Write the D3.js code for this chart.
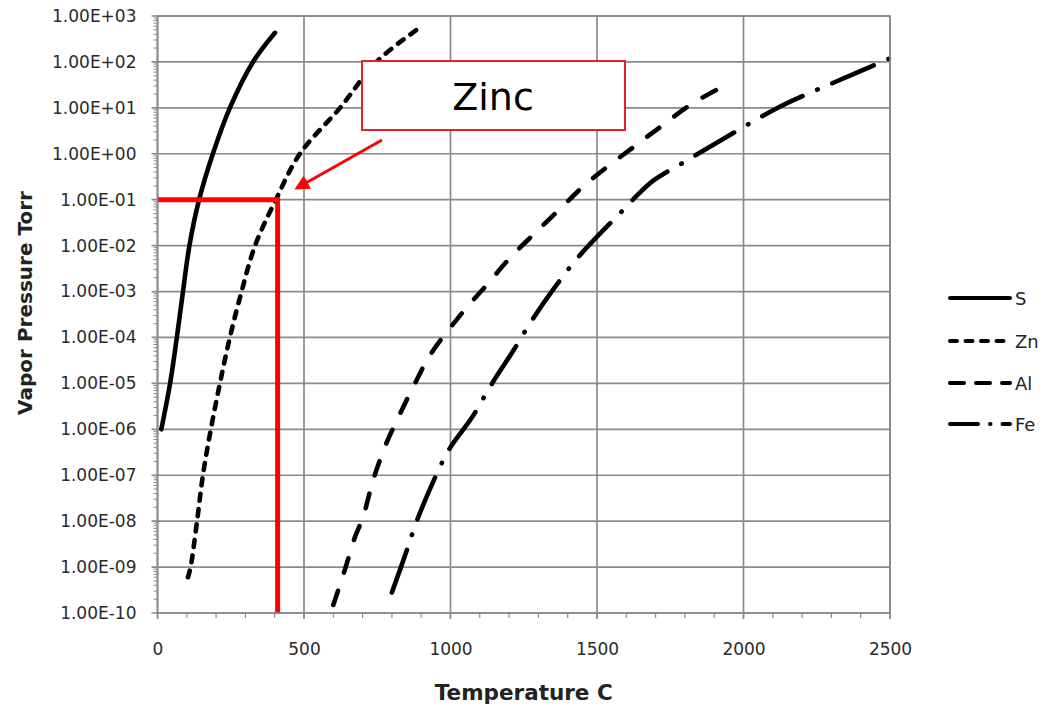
<!DOCTYPE html>
<html>
<head>
<meta charset="utf-8">
<script src="https://cdn.jsdelivr.net/npm/d3@7"></script>
<style>
  body { margin: 0; background: #fff; }
  text { font-family: "DejaVu Sans", Verdana, sans-serif; }
</style>
</head>
<body>
<div id="chart"></div>
<script>
// Temperatures (C) and vapor pressures (Torr)
var sTemp = [13, 43, 66, 87, 109, 142, 189, 247, 326, 401];
var sPress = [1e-6, 1e-5, 1e-4, 1e-3, 1e-2, 1e-1, 1, 10, 100, 430];

var znTemp = [104, 113, 135, 155, 182, 213, 247, 287, 333, 404, 486, 623, 747, 889];
var znPress = [6e-10, 1e-9, 1e-8, 1e-7, 1e-6, 1e-5, 1e-4, 1e-3, 1e-2, 1e-1, 1, 10, 100, 525];

var alTemp = [600, 637, 674, 701, 736, 777, 828, 882, 930, 1041, 1124, 1203, 1289, 1380, 1466, 1647, 1715, 1827, 1954];
var alPress = [1.5e-10, 7.8e-10, 4.5e-9, 1.2e-8, 7.8e-8, 4.3e-7, 2.2e-6, 1.1e-5, 4.1e-5, 3.5e-4, 1.4e-3, 5.4e-3, 1.9e-2, 6.9e-2, 0.23, 1.8, 3.8, 12.6, 35];

var feTemp = [800, 845, 886, 954, 998, 1073, 1142, 1213, 1282, 1357, 1439, 1596, 1640, 1692, 1801, 1913, 2114, 2233, 2353, 2500];
var fePress = [2.8e-10, 1.8e-9, 1.05e-8, 1.1e-7, 3.9e-7, 1.8e-6, 1e-5, 5e-5, 2.6e-4, 1.26e-3, 5.9e-3, 6.6e-2, 0.13, 0.26, 0.68, 1.8, 9.8, 22, 47, 120];

var seriesNames = ['S', 'Zn', 'Al', 'Fe'];

// tick values
var xTicks = [0, 500, 1000, 1500, 2000, 2500];
var yTicks = [1e-10, 1e-9, 1e-8, 1e-7, 1e-6, 1e-5, 1e-4, 1e-3, 1e-2, 1e-1, 1, 10, 100, 1000];

// zinc annotation: 0.1 Torr at about 410 C
var zincPress = 0.1;
var zincTemp = 410;
var zincLabel = 'Zinc';

// SVG area
var svgWidth = 1049;
var svgHeight = 708;

var margin = { top: 16, right: 159, bottom: 95, left: 157.5 };
var chartWidth = svgWidth - margin.left - margin.right;
var chartHeight = svgHeight - margin.top - margin.bottom;

var svg = d3.select('#chart')
  .append('svg')
  .attr('width', svgWidth)
  .attr('height', svgHeight);

var chartGroup = svg.append('g')
  .attr('transform', `translate(${margin.left}, ${margin.top})`);

var xScale = d3.scaleLinear().domain([0, 2500]).range([0, chartWidth]);
var yScale = d3.scaleLog().domain([1e-10, 1e3]).range([chartHeight, 0]);

var gridColor = '#8a8a8a';

// gridlines
chartGroup.append('g')
  .selectAll('line')
  .data(yTicks)
  .enter()
  .append('line')
  .attr('x1', -6)
  .attr('x2', chartWidth)
  .attr('y1', d => yScale(d))
  .attr('y2', d => yScale(d))
  .attr('stroke', gridColor)
  .attr('stroke-width', 1.7);

chartGroup.append('g')
  .selectAll('line')
  .data(xTicks)
  .enter()
  .append('line')
  .attr('x1', d => xScale(d))
  .attr('x2', d => xScale(d))
  .attr('y1', 0)
  .attr('y2', chartHeight + 6)
  .attr('stroke', gridColor)
  .attr('stroke-width', 1.7);

// minor ticks on the log axis
var minorY = [];
for (var k = -10; k < 3; k++) {
  for (var m = 2; m <= 9; m++) minorY.push(m * Math.pow(10, k));
}
chartGroup.append('g')
  .selectAll('line')
  .data(minorY)
  .enter()
  .append('line')
  .attr('x1', -4)
  .attr('x2', 0)
  .attr('y1', d => yScale(d))
  .attr('y2', d => yScale(d))
  .attr('stroke', gridColor)
  .attr('stroke-width', 1);

var minorX = d3.range(0, 2501, 100);
chartGroup.append('g')
  .selectAll('line')
  .data(minorX)
  .enter()
  .append('line')
  .attr('x1', d => xScale(d))
  .attr('x2', d => xScale(d))
  .attr('y1', chartHeight)
  .attr('y2', chartHeight + 5)
  .attr('stroke', gridColor)
  .attr('stroke-width', 1.2);

// axes (labels only, lines drawn separately)
var bottomAxis = d3.axisBottom(xScale).tickValues(xTicks).tickSize(0).tickPadding(30)
  .tickFormat(d3.format('d'));
var leftAxis = d3.axisLeft(yScale).tickValues(yTicks).tickSize(0).tickPadding(21)
  .tickFormat(d => {
    var e = Math.round(Math.log10(d));
    var s = Math.abs(e) < 10 ? '0' + Math.abs(e) : '' + Math.abs(e);
    return '1.00E' + (e < 0 ? '-' : '+') + s;
  });

var xAxis = chartGroup.append('g')
  .attr('transform', `translate(0, ${chartHeight})`)
  .call(bottomAxis);
var yAxis = chartGroup.append('g')
  .call(leftAxis);

[xAxis, yAxis].forEach(a => {
  a.select('.domain').remove();
  a.selectAll('text')
    .attr('font-size', '17px')
    .attr('font-family', '"DejaVu Sans", Verdana, sans-serif')
    .attr('fill', '#2a2a2a');
});

// axis titles
svg.append('text')
  .attr('x', margin.left + xScale(1250))
  .attr('y', 700)
  .attr('text-anchor', 'middle')
  .attr('font-size', '21.5px')
  .attr('font-weight', 'bold')
  .attr('fill', '#222')
  .text('Temperature C');

svg.append('text')
  .attr('transform', 'translate(32, 303) rotate(-90)')
  .attr('text-anchor', 'middle')
  .attr('font-size', '20px')
  .attr('font-weight', 'bold')
  .attr('fill', '#222')
  .text('Vapor Pressure Torr');

// series lines
var lineStyles = {
  S: null,
  Zn: '7,8.5',
  Al: '15,19',
  Fe: '45,16,0.5,16'
};

var series = [
  { name: 'S', temp: sTemp, press: sPress },
  { name: 'Zn', temp: znTemp, press: znPress },
  { name: 'Al', temp: alTemp, press: alPress },
  { name: 'Fe', temp: feTemp, press: fePress }
];

var line = d3.line()
  .x(d => xScale(d[0]))
  .y(d => yScale(d[1]))
  .curve(d3.curveCatmullRom.alpha(0.5));

chartGroup.append('g')
  .selectAll('path')
  .data(series)
  .enter()
  .append('path')
  .attr('d', d => line(d.temp.map((t, i) => [t, d.press[i]])))
  .attr('fill', 'none')
  .attr('stroke', '#000')
  .attr('stroke-width', 4.6)
  .attr('stroke-linecap', 'round')
  .attr('stroke-dasharray', d => lineStyles[d.name]);

// red annotation lines
chartGroup.append('line')
  .attr('x1', xScale(0))
  .attr('x2', xScale(zincTemp))
  .attr('y1', yScale(zincPress))
  .attr('y2', yScale(zincPress))
  .attr('stroke', '#ff0000')
  .attr('stroke-width', 5);

chartGroup.append('line')
  .attr('x1', xScale(zincTemp))
  .attr('x2', xScale(zincTemp))
  .attr('y1', yScale(zincPress) - 2.5)
  .attr('y2', yScale(1e-10))
  .attr('stroke', '#ff0000')
  .attr('stroke-width', 5);

// callout box with arrow
svg.append('defs').append('marker')
  .attr('id', 'arrowhead')
  .attr('viewBox', '0 0 10 10')
  .attr('refX', 8)
  .attr('refY', 5)
  .attr('markerWidth', 5)
  .attr('markerHeight', 5)
  .attr('orient', 'auto')
  .append('path')
  .attr('d', 'M0,0 L10,5 L0,10 z')
  .attr('fill', '#ff0000');

svg.append('line')
  .attr('x1', 382)
  .attr('y1', 140)
  .attr('x2', 297)
  .attr('y2', 188)
  .attr('stroke', '#ff0000')
  .attr('stroke-width', 3)
  .attr('marker-end', 'url(#arrowhead)');

svg.append('rect')
  .attr('x', 362)
  .attr('y', 61)
  .attr('width', 263)
  .attr('height', 69)
  .attr('fill', '#fff')
  .attr('stroke', '#e8202a')
  .attr('stroke-width', 2);

svg.append('text')
  .attr('x', 493)
  .attr('y', 110)
  .attr('text-anchor', 'middle')
  .attr('font-size', '38px')
  .attr('font-family', '"Liberation Sans", Arial, sans-serif')
  .attr('fill', '#000')
  .text(zincLabel);

// plot border drawn last so it sits on top
chartGroup.append('rect')
  .attr('x', 0)
  .attr('y', 0)
  .attr('width', chartWidth)
  .attr('height', chartHeight)
  .attr('fill', 'none')
  .attr('stroke', gridColor)
  .attr('stroke-width', 1.7);

// legend
var legendY = [298, 341, 383, 424];
var legend = svg.append('g')
  .selectAll('g')
  .data(series)
  .enter()
  .append('g')
  .attr('transform', (d, i) => `translate(948, ${legendY[i]})`);

legend.append('line')
  .attr('x1', 2)
  .attr('x2', 62)
  .attr('y1', 0)
  .attr('y2', 0)
  .attr('stroke', '#000')
  .attr('stroke-width', 4)
  .attr('stroke-linecap', 'round')
  .attr('stroke-dasharray', d => d.name === 'Fe' ? '28,12,0.5,12' : (d.name === 'Al' ? '14,12' : lineStyles[d.name]));

legend.append('text')
  .attr('x', 67)
  .attr('y', 6.5)
  .attr('font-size', '18px')
  .attr('fill', '#222')
  .text(d => d.name);
</script>
</body>
</html>
